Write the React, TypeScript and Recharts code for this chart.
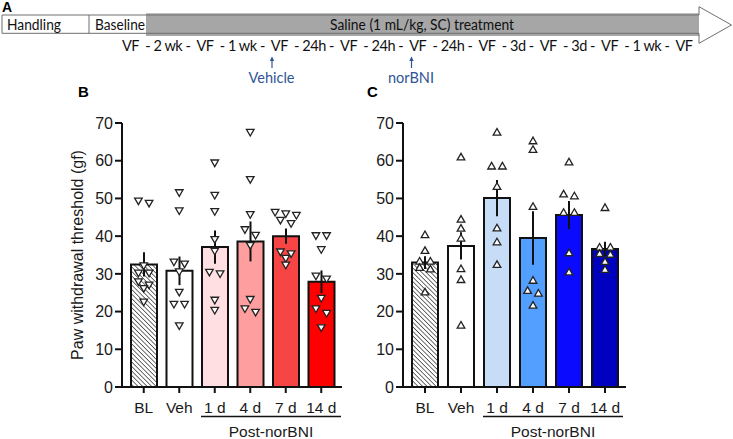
import React from 'react';
import { ComposedChart, Bar, Scatter, XAxis, YAxis, ErrorBar, Cell } from 'recharts';

const groups = ['BL', 'Veh', '1 d', '4 d', '7 d', '14 d'];
const yTicks = [0, 10, 20, 30, 40, 50, 60, 70];

// panel B (norBNI, down triangles)
const meansB = [32.5, 30.8, 37.1, 38.6, 40.0, 27.9];
const semB = [3.2, 3.8, 4.4, 5.3, 2.0, 3.0];
const pointsB = [
  [49.3, 48.7, 32.1, 30.2, 30.2, 27.9, 27.0, 26.1, 22.5],
  [51.5, 46.7, 33.1, 32.6, 30.5, 25.1, 21.9, 21.9, 16.2],
  [59.4, 50.8, 46.5, 39.1, 36.0, 30.4, 30.0, 23.0, 20.3],
  [67.5, 55.0, 45.7, 41.7, 40.2, 37.5, 23.2, 20.7, 19.8],
  [46.3, 45.9, 45.5, 44.2, 43.3, 35.8, 35.3, 34.1, 32.3],
  [40.1, 40.1, 36.4, 29.4, 28.6, 23.5, 20.7, 19.5, 15.7],
];
const colorsB = ['url(#hatchB)', '#ffffff', '#ffdfe1', '#ff9e9e', '#f74444', '#ff0000'];

// panel C (up triangles)
const meansC = [33.0, 37.4, 50.1, 39.5, 45.6, 36.6];
const semC = [1.7, 3.6, 4.8, 7.1, 3.7, 1.9];
const pointsC = [
  [40.4, 36.2, 33.4, 33.4, 31.7, 31.3, 25.2],
  [61.0, 44.5, 42.1, 39.5, 31.4, 28.5, 16.4],
  [67.6, 58.6, 58.6, 53.2, 42.2, 38.5, 32.5],
  [65.3, 63.0, 47.9, 28.3, 25.6, 24.9, 21.7],
  [59.7, 51.2, 50.7, 46.3, 46.3, 35.6, 30.5],
  [47.6, 37.1, 37.1, 35.4, 35.2, 33.3, 31.2],
];
const colorsC = ['url(#hatchC)', '#ffffff', '#c6dcf7', '#529fff', '#0a0aff', '#0000c0'];

const timelineSteps = 'VF  - 2 wk -  VF  - 1 wk -  VF  - 24h -  VF  - 24h -  VF  - 24h -  VF  - 3d -  VF  - 3d -  VF  - 1 wk -  VF';

const STEP = 0.3;
const INK = '#1a1a1a';
const BLUE = '#2f5597';
const FONT = 'Liberation Sans';
const TL_FONT = 'Lato';

// simple beeswarm: points close in value share a row, spread around the group centre
const swarm = (values: number[], idx: number) => {
  const sorted = [...values].sort((a, b) => b - a);
  const out: { x: number; y: number }[] = [];
  let row: number[] = [];
  const flush = () => {
    row.forEach((v, k) => out.push({ x: idx + (k - (row.length - 1) / 2) * STEP, y: v }));
    row = [];
  };
  sorted.forEach((v) => {
    if (row.length && row[0] - v > 1.5) flush();
    row.push(v);
  });
  flush();
  return out;
};

const TriDown = (p: any) => {
  const { cx, cy } = p;
  return <path d={`M${cx - 3.8},${cy - 3} L${cx + 3.8},${cy - 3} L${cx},${cy + 3.6} Z`} fill="#fff" stroke="#222" strokeWidth={1.3} />;
};

const TriUp = (p: any) => {
  const { cx, cy } = p;
  return <path d={`M${cx - 3.8},${cy + 3} L${cx + 3.8},${cy + 3} L${cx},${cy - 3.6} Z`} fill="#fff" stroke="#222" strokeWidth={1.3} />;
};

type PanelProps = {
  means: number[];
  sem: number[];
  points: number[][];
  colors: string[];
  hatchId: string;
  shape: (p: any) => React.ReactElement;
  width: number;
  margin: { top: number; right: number; bottom: number; left: number };
  yWidth: number;
  yLabel?: string;
};

const Panel: React.FC<PanelProps> = ({ means, sem, points, colors, hatchId, shape, width, margin, yWidth, yLabel }) => {
  const data = groups.map((g, i) => ({ name: g, mean: means[i], sem: sem[i] }));
  const pts = points.flatMap((vals, i) => swarm(vals, i));
  const axisStyle = { stroke: '#111', strokeWidth: 2 };

  return (
    <ComposedChart width={width} height={439} data={data} margin={margin} style={{ fontFamily: FONT }}>
      <defs>
        <pattern id={hatchId} width="3.2" height="3.2" patternUnits="userSpaceOnUse" patternTransform="rotate(-45)">
          <rect width="3.2" height="3.2" fill="#fff" />
          <line x1="0" y1="0" x2="0" y2="3.2" stroke="#222" strokeWidth="1.3" />
        </pattern>
      </defs>
      <XAxis
        dataKey="name"
        height={30}
        padding={{ left: 4, right: 3 }}
        tickSize={6}
        tickMargin={9}
        axisLine={axisStyle}
        tickLine={axisStyle}
        tick={{ fontSize: 15.5, fill: INK, fontFamily: FONT }}
        interval={0}
      />
      <XAxis xAxisId="pts" dataKey="x" type="number" domain={[-0.5, 5.5]} padding={{ left: 4, right: 3 }} allowDataOverflow hide />
      <YAxis
        width={yWidth}
        domain={[0, 70]}
        ticks={yTicks}
        interval={0}
        tickSize={7}
        tickMargin={2}
        axisLine={axisStyle}
        tickLine={axisStyle}
        tick={{ fontSize: 16, fill: INK, fontFamily: FONT }}
        label={
          yLabel
            ? {
                value: yLabel,
                angle: -90,
                position: 'insideLeft',
                offset: 15,
                style: { textAnchor: 'middle', fontSize: 16, fill: INK, fontFamily: FONT },
              }
            : undefined
        }
      />
      <Bar dataKey="mean" barSize={26} stroke="#111" strokeWidth={2} isAnimationActive={false}>
        {data.map((d, i) => (
          <Cell key={d.name} fill={colors[i]} />
        ))}
        <ErrorBar dataKey="sem" width={0} stroke="#111" strokeWidth={2} direction="y" />
      </Bar>
      <Scatter data={pts} xAxisId="pts" dataKey="y" shape={shape} isAnimationActive={false} />
    </ComposedChart>
  );
};

const App: React.FC = () => {
  return (
    <div
      style={{
        position: 'absolute',
        left: 0,
        top: 0,
        width: 733,
        height: 439,
        background: '#fff',
        fontFamily: FONT,
      }}
    >
      <div style={{ position: 'absolute', left: 0, top: 0 }}>
        <Panel
          means={meansB}
          sem={semB}
          points={pointsB}
          colors={colorsB}
          hatchId="hatchB"
          shape={TriDown}
          width={370}
          margin={{ top: 123, right: 28, bottom: 22, left: 62 }}
          yWidth={60}
          yLabel="Paw withdrawal threshold (gf)"
        />
      </div>
      <div style={{ position: 'absolute', left: 366, top: 0 }}>
        <Panel
          means={meansC}
          sem={semC}
          points={pointsC}
          colors={colorsC}
          hatchId="hatchC"
          shape={TriUp}
          width={280}
          margin={{ top: 123, right: 20, bottom: 22, left: 0 }}
          yWidth={37}
        />
      </div>

      {/* timeline (panel A), panel letters and Post-norBNI brackets */}
      <svg width={733} height={439} style={{ position: 'absolute', left: 0, top: 0, pointerEvents: 'none' }}>
        <text x={2} y={12} fontSize={14} fontWeight="bold" fill="#000" fontFamily={FONT}>A</text>
        <rect x={146} y={13.3} width={553} height={22.7} fill="#a6a6a6" />
        <path d="M2,15 H699 V6.7 L731.5,25 L699,43.3 V33.3 H2 Z" fill="none" stroke="#6f6f6f" strokeWidth={1} />
        <line x1={89} y1={15} x2={89} y2={33.3} stroke="#6f6f6f" strokeWidth={1} />
        <g fontFamily={TL_FONT} fontSize={14.5} fill="#111">
          <text x={7} y={29.5} textLength={54} lengthAdjust="spacingAndGlyphs">Handling</text>
          <text x={95} y={29.5} textLength={50} lengthAdjust="spacingAndGlyphs">Baseline</text>
          <text x={330} y={29.5} textLength={184} lengthAdjust="spacingAndGlyphs">Saline (1 mL/kg, SC) treatment</text>
          <text x={122} y={50.5} textLength={571} lengthAdjust="spacing" xmlSpace="preserve">{timelineSteps}</text>
        </g>
        <g stroke={BLUE} strokeWidth={1.2} fill={BLUE}>
          <line x1={272} y1={58} x2={272} y2={68} />
          <path d="M269.8,61 L272,56.5 L274.2,61 Z" stroke="none" />
          <line x1={411.5} y1={58} x2={411.5} y2={68} />
          <path d="M409.3,61 L411.5,56.5 L413.7,61 Z" stroke="none" />
        </g>
        <g fontFamily={TL_FONT} fontSize={14.5} fill={BLUE} textAnchor="middle">
          <text x={271.5} y={82.5}>Vehicle</text>
          <text x={411} y={82.5}>norBNI</text>
        </g>

        <text x={78} y={97} fontSize={15} fontWeight="bold" fill="#000" fontFamily={FONT}>B</text>
        <text x={367} y={97} fontSize={15} fontWeight="bold" fill="#000" fontFamily={FONT}>C</text>

        <g fontFamily={FONT} fontSize={15.5} fill={INK} textAnchor="middle">
          <line x1={201} y1={416.5} x2={341} y2={416.5} stroke="#111" strokeWidth={1.5} />
          <text x={271} y={436.5}>Post-norBNI</text>
          <line x1={483} y1={416.5} x2={623} y2={416.5} stroke="#111" strokeWidth={1.5} />
          <text x={553} y={436.5}>Post-norBNI</text>
        </g>
      </svg>
    </div>
  );
};

export default App;
